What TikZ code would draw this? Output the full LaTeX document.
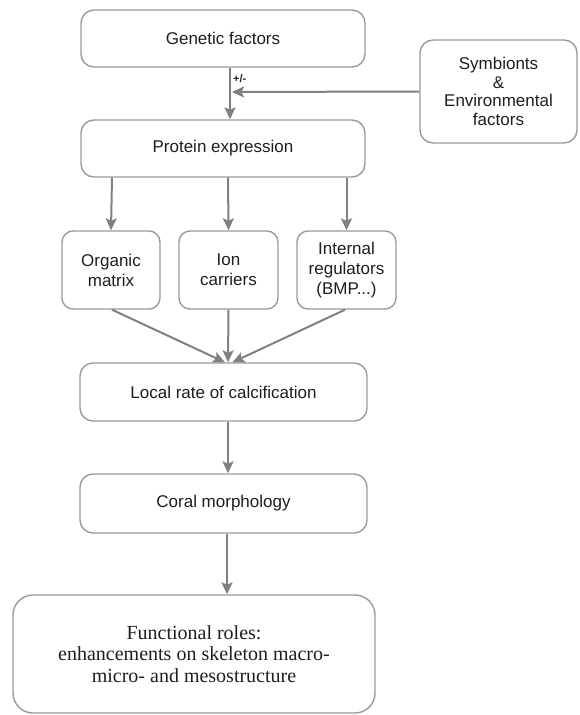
\documentclass[tikz,border=0pt]{standalone}
\usepackage{fontspec}
\setsansfont{Liberation Sans}
\setmainfont{Liberation Serif}
\usetikzlibrary{arrows.meta,calc}
\definecolor{boxgray}{HTML}{9A9A9A}
\definecolor{arrgray}{HTML}{808080}
\definecolor{txt}{HTML}{1E1E1E}
\tikzset{
  box/.style={draw=boxgray, line width=1.4pt, rounded corners=13pt, inner sep=0pt,
    align=center, text=txt, font=\sffamily\fontsize{17}{20}\selectfont},
  arr/.style={draw=arrgray, line width=2pt,
    -{Stealth[length=12pt,width=11pt,inset=2.5pt]}}
}
\begin{document}
\begin{tikzpicture}[x=1pt,y=-1pt]
\useasboundingbox (0,0) rectangle (579,715);
\node[box, minimum width=284pt, minimum height=57pt] (gen) at (223,38.5) {Genetic factors};
\node[box, minimum width=284pt, minimum height=57pt] (prot) at (223,148.5) {Protein expression};
\node[box, minimum width=157pt, minimum height=103pt, font=\sffamily\fontsize{17}{18.5}\selectfont] (sym) at (498.5,91.5) {Symbionts\\\&\\Environmental\\factors};
\node[box, minimum width=98pt, minimum height=78pt, rounded corners=11pt] (org) at (111,270) {Organic\\matrix};
\node[box, minimum width=99pt, minimum height=78pt, rounded corners=11pt] (ion) at (228.5,270) {Ion\\carriers};
\node[box, minimum width=99pt, minimum height=78pt, rounded corners=11pt] (intr) at (346.5,270) {Internal\\regulators\\(BMP...)};
\node[box, minimum width=287pt, minimum height=58pt] (loc) at (223.5,392) {Local rate of calcification};
\node[box, minimum width=287pt, minimum height=59pt] (cor) at (223.5,503.5) {Coral morphology};
\node[box, minimum width=362pt, minimum height=118pt, rounded corners=20pt,
  font=\rmfamily\fontsize{20}{21.8}\selectfont] (fun) at (194,654)
  {Functional roles:\\enhancements on skeleton macro-\\micro- and mesostructure};
% arrows
\draw[arr] ([xshift=7pt]gen.south) -- ([xshift=7pt]prot.north);
\coordinate (pm) at (232,92);
\draw[arr] (sym.west) -- (pm);
\node[font=\sffamily\bfseries\fontsize{11}{12}\selectfont, text=txt, anchor=west, inner sep=0pt] (pmlab) at (233,79) {+/-};
\draw[arr] ([xshift=1pt]prot.south -| org.north) -- (org.north);
\draw[arr] ([xshift=-0.5pt]prot.south -| ion.north) -- (ion.north);
\draw[arr] (prot.south -| intr.north) -- (intr.north);
\draw[arr] ([xshift=1pt]org.south) -- ([xshift=1.5pt]loc.north);
\draw[arr] (ion.south) -- ([xshift=4.5pt]loc.north);
\draw[arr] ([xshift=-1.5pt]intr.south) -- ([xshift=9pt]loc.north);
\draw[arr] ([xshift=4.5pt]loc.south) -- ([xshift=4.5pt]cor.north);
\coordinate (cfs) at ([xshift=3.5pt]cor.south);
\draw[arr] (cfs) -- (cfs |- fun.north);
\end{tikzpicture}
\end{document}
